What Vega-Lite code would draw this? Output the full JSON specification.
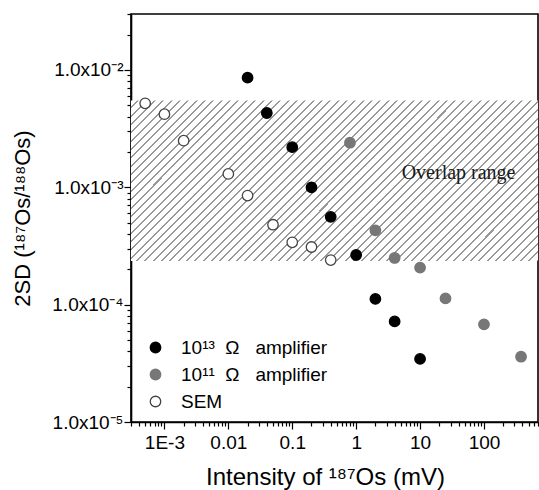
{
 "$schema": "https://vega.github.io/schema/vega-lite/v6.json",
 "width": 407,
 "height": 408,
 "autosize": "none",
 "padding": {"left": 131, "top": 14, "right": 1, "bottom": 68},
 "background": "white",
 "config": {
  "view": {"stroke": "#000", "strokeWidth": 1.6},
  "font": "Liberation Sans",
  "axis": {"domainColor": "#000", "domainWidth": 1.6, "tickColor": "#000", "tickWidth": 1.2, "labelColor": "#000", "titleColor": "#000", "labelFontSize": 19, "titleFontSize": 24, "titleFontWeight": "normal", "grid": false, "labelOverlap": false, "labelFlush": false, "labelBound": false, "labelFont": "Liberation Sans", "titleFont": "Liberation Sans"}
 },
 "layer": [
  {
   "data": {"values": [{"region": "Overlap range", "lo": 0.000235, "hi": 0.0055}]},
   "mark": {"type": "rect", "fill": {"gradient": "linear", "x1": 0, "y1": 0, "x2": 1.4197, "y2": 0.5602, "stops": [
    {"offset":0,"color":"#fff"},
    {"offset":0.0095,"color":"#fff"},{"offset":0.0095,"color":"#999"},{"offset":0.0125,"color":"#999"},{"offset":0.0125,"color":"#fff"},
    {"offset":0.022,"color":"#fff"},{"offset":0.022,"color":"#999"},{"offset":0.025,"color":"#999"},{"offset":0.025,"color":"#fff"},
    {"offset":0.0345,"color":"#fff"},{"offset":0.0345,"color":"#999"},{"offset":0.0375,"color":"#999"},{"offset":0.0375,"color":"#fff"},
    {"offset":0.047,"color":"#fff"},{"offset":0.047,"color":"#999"},{"offset":0.05,"color":"#999"},{"offset":0.05,"color":"#fff"},
    {"offset":0.0595,"color":"#fff"},{"offset":0.0595,"color":"#999"},{"offset":0.0625,"color":"#999"},{"offset":0.0625,"color":"#fff"},
    {"offset":0.072,"color":"#fff"},{"offset":0.072,"color":"#999"},{"offset":0.075,"color":"#999"},{"offset":0.075,"color":"#fff"},
    {"offset":0.0845,"color":"#fff"},{"offset":0.0845,"color":"#999"},{"offset":0.0875,"color":"#999"},{"offset":0.0875,"color":"#fff"},
    {"offset":0.097,"color":"#fff"},{"offset":0.097,"color":"#999"},{"offset":0.1,"color":"#999"},{"offset":0.1,"color":"#fff"},
    {"offset":0.1095,"color":"#fff"},{"offset":0.1095,"color":"#999"},{"offset":0.1125,"color":"#999"},{"offset":0.1125,"color":"#fff"},
    {"offset":0.122,"color":"#fff"},{"offset":0.122,"color":"#999"},{"offset":0.125,"color":"#999"},{"offset":0.125,"color":"#fff"},
    {"offset":0.1345,"color":"#fff"},{"offset":0.1345,"color":"#999"},{"offset":0.1375,"color":"#999"},{"offset":0.1375,"color":"#fff"},
    {"offset":0.147,"color":"#fff"},{"offset":0.147,"color":"#999"},{"offset":0.15,"color":"#999"},{"offset":0.15,"color":"#fff"},
    {"offset":0.1595,"color":"#fff"},{"offset":0.1595,"color":"#999"},{"offset":0.1625,"color":"#999"},{"offset":0.1625,"color":"#fff"},
    {"offset":0.172,"color":"#fff"},{"offset":0.172,"color":"#999"},{"offset":0.175,"color":"#999"},{"offset":0.175,"color":"#fff"},
    {"offset":0.1845,"color":"#fff"},{"offset":0.1845,"color":"#999"},{"offset":0.1875,"color":"#999"},{"offset":0.1875,"color":"#fff"},
    {"offset":0.197,"color":"#fff"},{"offset":0.197,"color":"#999"},{"offset":0.2,"color":"#999"},{"offset":0.2,"color":"#fff"},
    {"offset":0.2095,"color":"#fff"},{"offset":0.2095,"color":"#999"},{"offset":0.2125,"color":"#999"},{"offset":0.2125,"color":"#fff"},
    {"offset":0.222,"color":"#fff"},{"offset":0.222,"color":"#999"},{"offset":0.225,"color":"#999"},{"offset":0.225,"color":"#fff"},
    {"offset":0.2345,"color":"#fff"},{"offset":0.2345,"color":"#999"},{"offset":0.2375,"color":"#999"},{"offset":0.2375,"color":"#fff"},
    {"offset":0.247,"color":"#fff"},{"offset":0.247,"color":"#999"},{"offset":0.25,"color":"#999"},{"offset":0.25,"color":"#fff"},
    {"offset":0.2595,"color":"#fff"},{"offset":0.2595,"color":"#999"},{"offset":0.2625,"color":"#999"},{"offset":0.2625,"color":"#fff"},
    {"offset":0.272,"color":"#fff"},{"offset":0.272,"color":"#999"},{"offset":0.275,"color":"#999"},{"offset":0.275,"color":"#fff"},
    {"offset":0.2845,"color":"#fff"},{"offset":0.2845,"color":"#999"},{"offset":0.2875,"color":"#999"},{"offset":0.2875,"color":"#fff"},
    {"offset":0.297,"color":"#fff"},{"offset":0.297,"color":"#999"},{"offset":0.3,"color":"#999"},{"offset":0.3,"color":"#fff"},
    {"offset":0.3095,"color":"#fff"},{"offset":0.3095,"color":"#999"},{"offset":0.3125,"color":"#999"},{"offset":0.3125,"color":"#fff"},
    {"offset":0.322,"color":"#fff"},{"offset":0.322,"color":"#999"},{"offset":0.325,"color":"#999"},{"offset":0.325,"color":"#fff"},
    {"offset":0.3345,"color":"#fff"},{"offset":0.3345,"color":"#999"},{"offset":0.3375,"color":"#999"},{"offset":0.3375,"color":"#fff"},
    {"offset":0.347,"color":"#fff"},{"offset":0.347,"color":"#999"},{"offset":0.35,"color":"#999"},{"offset":0.35,"color":"#fff"},
    {"offset":0.3595,"color":"#fff"},{"offset":0.3595,"color":"#999"},{"offset":0.3625,"color":"#999"},{"offset":0.3625,"color":"#fff"},
    {"offset":0.372,"color":"#fff"},{"offset":0.372,"color":"#999"},{"offset":0.375,"color":"#999"},{"offset":0.375,"color":"#fff"},
    {"offset":0.3845,"color":"#fff"},{"offset":0.3845,"color":"#999"},{"offset":0.3875,"color":"#999"},{"offset":0.3875,"color":"#fff"},
    {"offset":0.397,"color":"#fff"},{"offset":0.397,"color":"#999"},{"offset":0.4,"color":"#999"},{"offset":0.4,"color":"#fff"},
    {"offset":0.4095,"color":"#fff"},{"offset":0.4095,"color":"#999"},{"offset":0.4125,"color":"#999"},{"offset":0.4125,"color":"#fff"},
    {"offset":0.422,"color":"#fff"},{"offset":0.422,"color":"#999"},{"offset":0.425,"color":"#999"},{"offset":0.425,"color":"#fff"},
    {"offset":0.4345,"color":"#fff"},{"offset":0.4345,"color":"#999"},{"offset":0.4375,"color":"#999"},{"offset":0.4375,"color":"#fff"},
    {"offset":0.447,"color":"#fff"},{"offset":0.447,"color":"#999"},{"offset":0.45,"color":"#999"},{"offset":0.45,"color":"#fff"},
    {"offset":0.4595,"color":"#fff"},{"offset":0.4595,"color":"#999"},{"offset":0.4625,"color":"#999"},{"offset":0.4625,"color":"#fff"},
    {"offset":0.472,"color":"#fff"},{"offset":0.472,"color":"#999"},{"offset":0.475,"color":"#999"},{"offset":0.475,"color":"#fff"},
    {"offset":0.4845,"color":"#fff"},{"offset":0.4845,"color":"#999"},{"offset":0.4875,"color":"#999"},{"offset":0.4875,"color":"#fff"},
    {"offset":0.497,"color":"#fff"},{"offset":0.497,"color":"#999"},{"offset":0.5,"color":"#999"},{"offset":0.5,"color":"#fff"},
    {"offset":0.5095,"color":"#fff"},{"offset":0.5095,"color":"#999"},{"offset":0.5125,"color":"#999"},{"offset":0.5125,"color":"#fff"},
    {"offset":0.522,"color":"#fff"},{"offset":0.522,"color":"#999"},{"offset":0.525,"color":"#999"},{"offset":0.525,"color":"#fff"},
    {"offset":0.5345,"color":"#fff"},{"offset":0.5345,"color":"#999"},{"offset":0.5375,"color":"#999"},{"offset":0.5375,"color":"#fff"},
    {"offset":0.547,"color":"#fff"},{"offset":0.547,"color":"#999"},{"offset":0.55,"color":"#999"},{"offset":0.55,"color":"#fff"},
    {"offset":0.5595,"color":"#fff"},{"offset":0.5595,"color":"#999"},{"offset":0.5625,"color":"#999"},{"offset":0.5625,"color":"#fff"},
    {"offset":0.572,"color":"#fff"},{"offset":0.572,"color":"#999"},{"offset":0.575,"color":"#999"},{"offset":0.575,"color":"#fff"},
    {"offset":0.5845,"color":"#fff"},{"offset":0.5845,"color":"#999"},{"offset":0.5875,"color":"#999"},{"offset":0.5875,"color":"#fff"},
    {"offset":0.597,"color":"#fff"},{"offset":0.597,"color":"#999"},{"offset":0.6,"color":"#999"},{"offset":0.6,"color":"#fff"},
    {"offset":0.6095,"color":"#fff"},{"offset":0.6095,"color":"#999"},{"offset":0.6125,"color":"#999"},{"offset":0.6125,"color":"#fff"},
    {"offset":0.622,"color":"#fff"},{"offset":0.622,"color":"#999"},{"offset":0.625,"color":"#999"},{"offset":0.625,"color":"#fff"},
    {"offset":0.6345,"color":"#fff"},{"offset":0.6345,"color":"#999"},{"offset":0.6375,"color":"#999"},{"offset":0.6375,"color":"#fff"},
    {"offset":0.647,"color":"#fff"},{"offset":0.647,"color":"#999"},{"offset":0.65,"color":"#999"},{"offset":0.65,"color":"#fff"},
    {"offset":0.6595,"color":"#fff"},{"offset":0.6595,"color":"#999"},{"offset":0.6625,"color":"#999"},{"offset":0.6625,"color":"#fff"},
    {"offset":0.672,"color":"#fff"},{"offset":0.672,"color":"#999"},{"offset":0.675,"color":"#999"},{"offset":0.675,"color":"#fff"},
    {"offset":0.6845,"color":"#fff"},{"offset":0.6845,"color":"#999"},{"offset":0.6875,"color":"#999"},{"offset":0.6875,"color":"#fff"},
    {"offset":0.697,"color":"#fff"},{"offset":0.697,"color":"#999"},{"offset":0.7,"color":"#999"},{"offset":0.7,"color":"#fff"},
    {"offset":0.7095,"color":"#fff"},{"offset":0.7095,"color":"#999"},{"offset":0.7125,"color":"#999"},{"offset":0.7125,"color":"#fff"},
    {"offset":0.722,"color":"#fff"},{"offset":0.722,"color":"#999"},{"offset":0.725,"color":"#999"},{"offset":0.725,"color":"#fff"},
    {"offset":0.7345,"color":"#fff"},{"offset":0.7345,"color":"#999"},{"offset":0.7375,"color":"#999"},{"offset":0.7375,"color":"#fff"},
    {"offset":0.747,"color":"#fff"},{"offset":0.747,"color":"#999"},{"offset":0.75,"color":"#999"},{"offset":0.75,"color":"#fff"},
    {"offset":0.7595,"color":"#fff"},{"offset":0.7595,"color":"#999"},{"offset":0.7625,"color":"#999"},{"offset":0.7625,"color":"#fff"},
    {"offset":0.772,"color":"#fff"},{"offset":0.772,"color":"#999"},{"offset":0.775,"color":"#999"},{"offset":0.775,"color":"#fff"},
    {"offset":0.7845,"color":"#fff"},{"offset":0.7845,"color":"#999"},{"offset":0.7875,"color":"#999"},{"offset":0.7875,"color":"#fff"},
    {"offset":0.797,"color":"#fff"},{"offset":0.797,"color":"#999"},{"offset":0.8,"color":"#999"},{"offset":0.8,"color":"#fff"},
    {"offset":0.8095,"color":"#fff"},{"offset":0.8095,"color":"#999"},{"offset":0.8125,"color":"#999"},{"offset":0.8125,"color":"#fff"},
    {"offset":0.822,"color":"#fff"},{"offset":0.822,"color":"#999"},{"offset":0.825,"color":"#999"},{"offset":0.825,"color":"#fff"},
    {"offset":0.8345,"color":"#fff"},{"offset":0.8345,"color":"#999"},{"offset":0.8375,"color":"#999"},{"offset":0.8375,"color":"#fff"},
    {"offset":0.847,"color":"#fff"},{"offset":0.847,"color":"#999"},{"offset":0.85,"color":"#999"},{"offset":0.85,"color":"#fff"},
    {"offset":1,"color":"#fff"}
   ]}},
   "encoding": {
    "x": {"datum": 0.0003, "type": "quantitative", "scale": {"type": "log", "domain": [0.0003, 700]}},
    "x2": {"datum": 700},
    "y": {"field": "hi", "type": "quantitative", "scale": {"type": "log", "domain": [0.00001, 0.03]}},
    "y2": {"field": "lo"}
   }
  },
  {
   "data": {"values": [{"region": "Overlap range", "lo": 0.000235, "hi": 0.0055}]},
   "mark": {"type": "text", "font": "Liberation Serif", "fontSize": 20, "color": "#1a1a1a", "align": "center", "baseline": "middle"},
   "encoding": {
    "x": {"datum": 40, "type": "quantitative", "scale": {"type": "log", "domain": [0.0003, 700]}},
    "y": {"datum": 0.00132, "type": "quantitative", "scale": {"type": "log", "domain": [0.00001, 0.03]}},
    "text": {"field": "region"}
   }
  },
  {
   "data": {"values": [
    {"series": "SEM", "intensity": 0.0005, "sd": 0.0052},
    {"series": "SEM", "intensity": 0.001, "sd": 0.0042},
    {"series": "SEM", "intensity": 0.002, "sd": 0.0025},
    {"series": "SEM", "intensity": 0.01, "sd": 0.0013},
    {"series": "SEM", "intensity": 0.02, "sd": 0.00085},
    {"series": "SEM", "intensity": 0.05, "sd": 0.00048},
    {"series": "SEM", "intensity": 0.1, "sd": 0.00034},
    {"series": "SEM", "intensity": 0.2, "sd": 0.00031},
    {"series": "SEM", "intensity": 0.4, "sd": 0.00024},
    {"series": "10¹³\u00a0\u00a0Ω\u00a0\u00a0\u00a0amplifier", "intensity": 0.02, "sd": 0.0086},
    {"series": "10¹³\u00a0\u00a0Ω\u00a0\u00a0\u00a0amplifier", "intensity": 0.04, "sd": 0.0043},
    {"series": "10¹³\u00a0\u00a0Ω\u00a0\u00a0\u00a0amplifier", "intensity": 0.1, "sd": 0.0022},
    {"series": "10¹³\u00a0\u00a0Ω\u00a0\u00a0\u00a0amplifier", "intensity": 0.2, "sd": 0.001},
    {"series": "10¹³\u00a0\u00a0Ω\u00a0\u00a0\u00a0amplifier", "intensity": 0.4, "sd": 0.00056},
    {"series": "10¹³\u00a0\u00a0Ω\u00a0\u00a0\u00a0amplifier", "intensity": 1, "sd": 0.000265},
    {"series": "10¹³\u00a0\u00a0Ω\u00a0\u00a0\u00a0amplifier", "intensity": 2, "sd": 0.000112},
    {"series": "10¹³\u00a0\u00a0Ω\u00a0\u00a0\u00a0amplifier", "intensity": 4, "sd": 0.000072},
    {"series": "10¹³\u00a0\u00a0Ω\u00a0\u00a0\u00a0amplifier", "intensity": 10, "sd": 0.0000345},
    {"series": "10¹¹\u00a0\u00a0Ω\u00a0\u00a0\u00a0amplifier", "intensity": 0.8, "sd": 0.0024},
    {"series": "10¹¹\u00a0\u00a0Ω\u00a0\u00a0\u00a0amplifier", "intensity": 2, "sd": 0.00043},
    {"series": "10¹¹\u00a0\u00a0Ω\u00a0\u00a0\u00a0amplifier", "intensity": 4, "sd": 0.00025},
    {"series": "10¹¹\u00a0\u00a0Ω\u00a0\u00a0\u00a0amplifier", "intensity": 10, "sd": 0.000207},
    {"series": "10¹¹\u00a0\u00a0Ω\u00a0\u00a0\u00a0amplifier", "intensity": 25, "sd": 0.000113},
    {"series": "10¹¹\u00a0\u00a0Ω\u00a0\u00a0\u00a0amplifier", "intensity": 100, "sd": 0.000068},
    {"series": "10¹¹\u00a0\u00a0Ω\u00a0\u00a0\u00a0amplifier", "intensity": 380, "sd": 0.000036}
   ]},
   "mark": {"type": "point", "shape": "circle", "filled": true, "opacity": 1, "size": 110, "strokeWidth": 1.3},
   "encoding": {
    "x": {"field": "intensity", "type": "quantitative", "scale": {"type": "log", "domain": [0.0003, 700]},
     "axis": {"title": "Intensity of ¹⁸⁷Os (mV)", "titlePadding": 13, "labelPadding": 4, "titleX": 194,
      "values": [0.0003,0.0004,0.0005,0.0006,0.0007,0.0008,0.0009,0.001,0.002,0.003,0.004,0.005,0.006,0.007,0.008,0.009,0.01,0.02,0.03,0.04,0.05,0.06,0.07,0.08,0.09,0.1,0.2,0.3,0.4,0.5,0.6,0.7,0.8,0.9,1,2,3,4,5,6,7,8,9,10,20,30,40,50,60,70,80,90,100,200,300,400,500,600,700],
      "labelExpr": "datum.value==0.001?'1E-3':datum.value==0.01?'0.01':datum.value==0.1?'0.1':datum.value==1?'1':datum.value==10?'10':datum.value==100?'100':''",
      "tickSize": {"condition": {"test": "indexof([0.001,0.01,0.1,1,10,100], datum.value) >= 0", "value": 7}, "value": 4}}},
    "y": {"field": "sd", "type": "quantitative", "scale": {"type": "log", "domain": [0.00001, 0.03]},
     "axis": {"title": "2SD (¹⁸⁷Os/¹⁸⁸Os)", "titleFontSize": 22, "titlePadding": 17, "labelPadding": 1,
      "values": [0.00001,0.00002,0.00003,0.00004,0.00005,0.00006,0.00007,0.00008,0.00009,0.0001,0.0002,0.0003,0.0004,0.0005,0.0006,0.0007,0.0008,0.0009,0.001,0.002,0.003,0.004,0.005,0.006,0.007,0.008,0.009,0.01,0.02,0.03],
      "labelExpr": "datum.value==0.00001?'1.0x10⁻⁵':datum.value==0.0001?'1.0x10⁻⁴':datum.value==0.001?'1.0x10⁻³':datum.value==0.01?'1.0x10⁻²':''",
      "tickSize": {"condition": {"test": "indexof([0.00001,0.0001,0.001,0.01], datum.value) >= 0", "value": 7}, "value": 4}}},
    "fill": {"field": "series", "type": "nominal",
     "scale": {"domain": ["10¹³\u00a0\u00a0Ω\u00a0\u00a0\u00a0amplifier", "10¹¹\u00a0\u00a0Ω\u00a0\u00a0\u00a0amplifier", "SEM"], "range": ["#000000", "#777777", "#ffffff"]},
     "legend": {"orient": "none", "legendX": 15, "legendY": 324, "title": null, "labelFontSize": 19, "labelFont": "Liberation Sans", "labelColor": "#000", "symbolSize": 110, "symbolStrokeWidth": 1.3, "rowPadding": 7, "labelOffset": 16, "symbolType": "circle", "padding": 0}},
    "stroke": {"field": "series", "type": "nominal",
     "scale": {"domain": ["10¹³\u00a0\u00a0Ω\u00a0\u00a0\u00a0amplifier", "10¹¹\u00a0\u00a0Ω\u00a0\u00a0\u00a0amplifier", "SEM"], "range": ["#000000", "#777777", "#444444"]},
     "legend": {"orient": "none", "legendX": 15, "legendY": 324, "title": null, "labelFontSize": 19, "labelFont": "Liberation Sans", "labelColor": "#000", "symbolSize": 110, "symbolStrokeWidth": 1.3, "rowPadding": 7, "labelOffset": 16, "symbolType": "circle", "padding": 0}}
   }
  }
 ]
}
